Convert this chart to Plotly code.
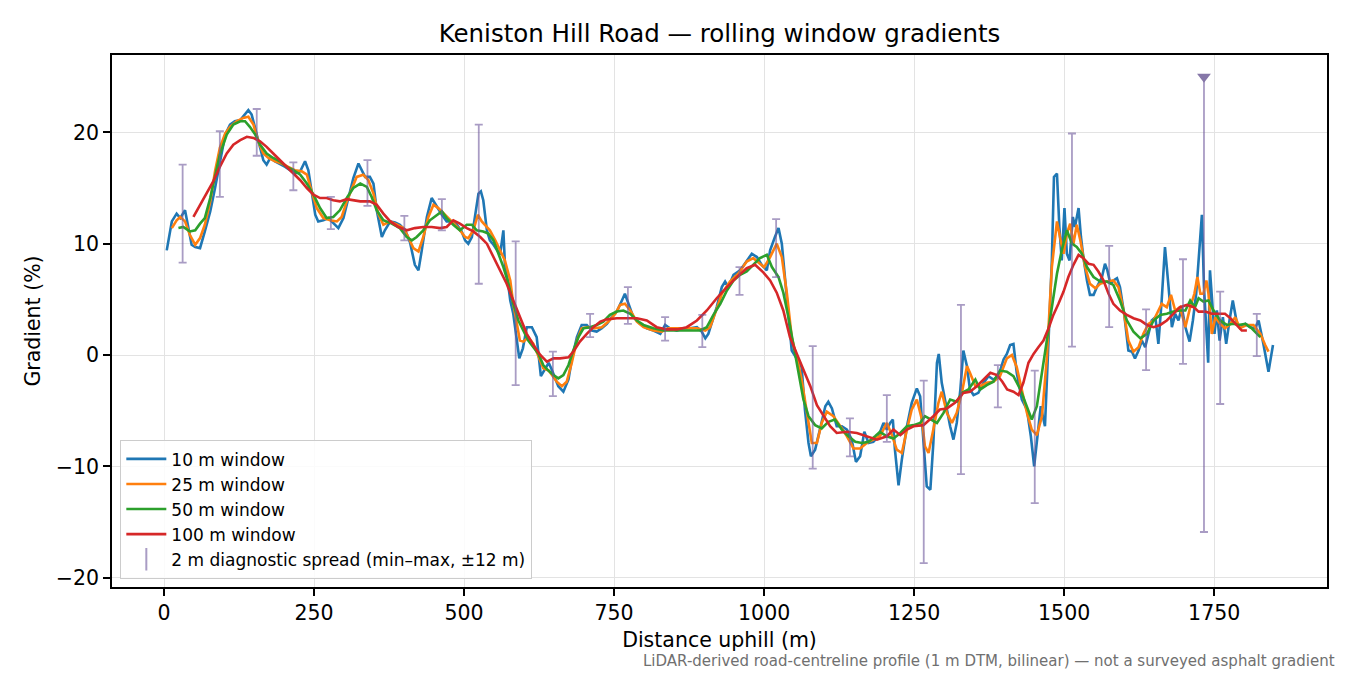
import plotly.graph_objects as go

# ---------------- data ----------------
dist_10 = [4.5, 13, 21, 27, 35, 40.5, 46, 52, 60, 68, 77, 85, 93, 102, 110, 118, 127, 135, 140.5, 146,
           152, 160, 165.5, 171, 177, 185, 193, 202, 210, 218, 227, 235, 240.5, 246, 252, 257, 265.5, 274,
           282, 290.5, 299, 307, 315.5, 324, 329.5, 335, 343, 349, 354.5, 363, 368, 377, 385, 393, 402,
           410, 418, 424, 429.5, 438, 446, 454.5, 463, 471, 479.5, 488, 496, 501.7, 507, 513, 518, 524,
           528, 532, 538, 543, 549, 554.5, 560, 565.5, 568, 572, 577, 582, 588, 592, 598, 604.5, 613, 621,
           628, 635, 641, 646, 652, 657, 665.5, 674, 679.5, 688, 696, 704.5, 713, 721, 729.5, 738, 746,
           754.5, 763, 768, 774, 782, 793, 804.5, 815.5, 827, 835, 843, 854.5, 865.5, 877, 888, 896, 902,
           907, 913, 921, 929.5, 935, 940.5, 949, 960, 971, 979.5, 988, 996, 1004.5, 1010, 1018, 1024,
           1029.5, 1035, 1040.5, 1046, 1054, 1062.5, 1068, 1074, 1078, 1085, 1093, 1102, 1107, 1113, 1121,
           1129.5, 1138, 1146, 1153, 1160, 1167, 1174, 1182, 1190.5, 1199, 1204.5, 1210, 1214.5, 1218,
           1224, 1229.5, 1238, 1246, 1254.5, 1260, 1265.5, 1271, 1277, 1282, 1288, 1291, 1296, 1302, 1310,
           1315.5, 1321, 1327, 1332, 1338, 1343, 1349, 1357, 1365.5, 1374, 1382, 1390.5, 1399, 1404.5,
           1410, 1415.5, 1421, 1429.5, 1438, 1444.5, 1450, 1455.5, 1461, 1468, 1474, 1479.5, 1483, 1488,
           1492, 1496, 1500.5, 1504.5, 1509, 1514.5, 1518, 1524, 1528, 1532, 1538, 1543, 1549, 1554.5,
           1563, 1568, 1572, 1577, 1582, 1588, 1593, 1600, 1607, 1613, 1618, 1624, 1629.5, 1635, 1640.5,
           1646, 1652, 1657, 1662.5, 1668, 1674, 1679.5, 1685, 1690.5, 1696, 1702, 1709, 1714.5, 1720,
           1725, 1729.5, 1733, 1737, 1740, 1743, 1747, 1750.5, 1754.5, 1759, 1764.5, 1770, 1775.5, 1781,
           1788, 1793, 1802, 1810, 1818, 1824, 1832, 1840.5, 1848]
grad_10 = [9.4, 12.0, 12.7, 12.3, 13.0, 11.4, 9.9, 9.7, 9.6, 11.1, 12.9, 15.0, 17.4, 19.8, 20.7, 21.0, 21.1, 21.6, 22.0, 21.6,
           20.4, 18.6, 17.5, 17.1, 17.7, 17.4, 17.2, 16.9, 16.6, 16.3, 16.5, 17.4, 16.6, 14.7, 12.6, 12.0, 12.1, 12.3,
           11.9, 11.4, 12.3, 14.1, 15.9, 17.2, 16.6, 16.0, 16.0, 15.4, 13.0, 10.6, 11.2, 12.0, 11.9, 11.7, 11.2,
           10.1, 8.1, 7.6, 9.4, 12.4, 14.1, 13.3, 12.6, 12.0, 12.0, 11.7, 11.1, 10.3, 10.0, 10.6, 12.4, 14.5,
           14.7, 13.9, 11.2, 10.3, 9.9, 9.4, 9.0, 11.2, 8.2, 7.0, 4.9, 3.7, 1.3, -0.3, 0.6, 2.5, 2.5, 1.6,
           -1.9, -1.3, -0.7, -1.3, -2.2, -2.8, -3.3, -2.2, -0.4, 1.6, 2.7, 2.7, 2.2, 2.1, 2.4, 2.8, 3.4,
           3.9, 4.9, 5.5, 4.6, 3.4, 2.8, 2.4, 2.2, 1.9, 2.7, 2.4, 2.2, 2.4, 2.4, 2.5, 2.1, 1.5,
           1.9, 3.0, 4.3, 6.1, 6.6, 6.1, 7.2, 7.6, 8.4, 9.1, 8.8, 8.1, 7.6, 9.4, 10.6, 11.4,
           10.0, 7.0, 3.4, 0.4, -0.3, -1.1, -4.9, -7.9, -9.1, -8.5, -6.7, -4.6, -4.2, -4.8, -6.4,
           -6.4, -6.7, -7.6, -9.6, -9.1, -6.9, -7.9, -7.8, -7.3, -6.1, -6.7, -6.1, -5.8, -8.5,
           -11.7, -9.4, -6.4, -4.3, -3.0, -3.7, -7.9, -11.8, -12.1, -7.9, -0.7, 0.1, -2.5, -4.3, -6.4,
           -7.6, -6.1, -3.1, 0.4, -1.0, -3.1, -3.6, -3.4, -2.5, -1.9, -2.2, -1.9, -0.4, 0.1,
           0.9, 1.0, -1.6, -4.0, -4.9, -7.3, -10.0, -7.3, -4.6, -6.4, 0.7, 8.5, 16.0, 16.3,
           11.5, 8.5, 13.2, 9.1, 8.5, 12.4, 11.5, 13.2, 10.6, 8.8, 6.7, 5.4, 5.4, 6.1,
           7.0, 8.2, 7.6, 6.4, 6.7, 6.9, 6.1, 3.7, 0.4, 0.3, -0.3, 0.4, 1.3, 0.7, 1.9,
           3.1, 3.4, 1.0, 4.9, 9.7, 6.1, 2.5, 3.7, 3.1, 4.3, 2.5, 1.2, 3.1, 5.5,
           9.1, 12.6, 6.1, 1.9, -0.7, 7.6, 4.9, 1.9, 4.0, 1.3, 3.4, 1.0, 3.1, 4.9,
           2.8, 2.5, 2.8, 2.5, 2.4, 3.1, 1.0, -1.5, 0.9]

dist_25 = [13, 21, 27, 35, 43, 52, 60, 68, 77, 85, 93, 102, 110, 121, 132, 140.5, 149, 157, 165.5, 174,
           185, 196, 207, 218, 229.5, 238, 246, 254.5, 265.5, 277, 288, 296, 304.5, 313, 321, 332, 340.5,
           349, 357, 365.5, 377, 388, 399, 407, 415.5, 424, 432, 440.5, 449, 457, 468, 479.5, 490.5, 501.7,
           507, 515.5, 523, 529.5, 535, 543, 552, 560, 568, 577, 582, 588, 593, 599, 607, 615.5, 624, 632,
           641, 654.5, 663, 671, 679.5, 688, 696, 707, 718, 729.5, 740.5, 752, 760, 768, 777, 788, 799,
           815.5, 829.5, 840.5, 854.5, 871, 888, 902, 910, 918, 929.5, 943, 957, 971, 982, 993, 1000,
           1010, 1021, 1029.5, 1038, 1046, 1054.5, 1062.5, 1071, 1079.5, 1088, 1096, 1104.5, 1115.5, 1127,
           1138, 1149, 1160, 1171, 1182, 1193, 1204.5, 1213, 1221, 1229.5, 1238, 1246, 1254.5, 1263, 1268,
           1274, 1282, 1290.5, 1296, 1304.5, 1313, 1321, 1329.5, 1338, 1343, 1352, 1360, 1371, 1382, 1393,
           1404.5, 1413, 1421, 1429.5, 1438, 1446, 1454.5, 1463, 1471, 1479.5, 1488, 1493, 1499, 1504.5,
           1510, 1515.5, 1521, 1527, 1535, 1543, 1552, 1560, 1571, 1582, 1590.5, 1599, 1607, 1615.5, 1624,
           1632, 1640.5, 1649, 1657, 1662.5, 1671, 1678, 1685, 1693, 1702, 1710, 1717, 1722, 1727, 1732,
           1737, 1740.5, 1746, 1752, 1760, 1768, 1777, 1785, 1793, 1804.5, 1815.5, 1827, 1835, 1840.5]
grad_25 = [11.4, 12.1, 12.4, 12.0, 10.8, 9.9, 10.5, 11.7, 13.8, 16.5, 18.6, 19.9, 20.5, 21.0, 21.3, 21.4, 20.7, 19.2, 18.1, 17.7,
           17.4, 17.2, 16.9, 16.6, 16.5, 16.2, 14.7, 13.2, 12.3, 12.1, 12.0, 12.4, 13.8, 15.0, 16.0, 16.2, 15.7,
           14.5, 12.7, 11.7, 12.0, 11.7, 11.4, 10.6, 9.6, 9.3, 10.6, 12.4, 13.5, 13.2, 12.6, 12.0, 11.4, 10.6,
           10.5, 11.2, 12.6, 12.0, 11.7, 11.2, 10.3, 9.4, 8.5, 6.7, 4.6, 2.8, 1.3, 1.2, 1.6, 1.0, -0.2, -1.2,
           -1.4, -2.4, -2.8, -2.4, -0.7, 1.3, 2.4, 2.5, 2.4, 2.5, 3.0, 3.7, 4.5, 4.6, 4.0, 3.0, 2.5,
           2.2, 2.1, 2.4, 2.4, 2.4, 2.4, 2.2, 2.5, 3.7, 5.5, 6.6, 7.3, 8.4, 8.7, 8.2, 7.9,
           8.8, 10.0, 8.8, 5.5, 1.6, -0.2, -2.2, -5.2, -7.9, -7.9, -6.1, -5.1, -5.5, -6.4,
           -7.3, -8.4, -8.4, -7.9, -7.6, -7.3, -6.1, -7.2, -8.5, -8.8, -6.7, -4.9, -4.0, -5.8, -8.2,
           -8.8, -6.7, -4.3, -3.3, -5.2, -6.1, -5.2, -3.4, -1.0, -1.6, -2.8, -2.8, -2.5, -2.4, -1.9,
           -0.3, 0.0, -1.1, -3.1, -5.2, -6.7, -7.2, -5.5, -0.4, 7.9, 12.0, 10.6, 9.1, 10.9,
           11.8, 10.0, 11.7, 10.3, 7.9, 6.4, 6.0, 6.4, 6.6, 6.7, 6.1, 4.0, 1.3, 0.3, 0.7,
           1.9, 2.8, 3.1, 4.0, 4.6, 4.3, 5.4, 4.0, 4.3, 2.5, 4.3, 5.5, 7.0, 5.5, 5.5,
           6.7, 5.5, 1.9, 3.4, 2.8, 2.4, 2.8, 3.4, 2.4, 2.7, 2.7, 1.9, 0.9, 0.3]

dist_50 = [24, 32, 43, 52, 60, 68, 77, 85, 93, 104.5, 115.5, 127, 135, 143, 152, 160, 171, 182, 193, 204.5,
           215.5, 227, 238, 249, 260, 271, 282, 293, 304.5, 315.5, 327, 338, 346, 354.5, 365.5, 379.5, 393,
           404.5, 413, 421, 432, 443, 454.5, 463, 471, 482, 493, 504.5, 513, 521, 532, 540.5, 549, 557,
           565.5, 574, 582, 590.5, 599, 607, 615.5, 624, 632, 640.5, 649, 657, 665.5, 674, 682, 690.5, 699,
           710, 721, 732, 743, 754.5, 765.5, 777, 788, 799, 815.5, 832, 849, 865.5, 882, 893, 904.5, 915.5,
           927, 938, 949, 960, 971, 982, 993, 1004.5, 1013, 1024, 1032, 1040.5, 1049, 1057, 1065.5, 1074,
           1085, 1096, 1107, 1118, 1129.5, 1140.5, 1152, 1163, 1174, 1185, 1193, 1204.5, 1215.5, 1227, 1238,
           1249, 1260, 1268, 1277, 1288, 1299, 1310, 1321, 1329.5, 1340.5, 1352, 1360, 1371, 1382, 1393,
           1404.5, 1415.5, 1427, 1438, 1446, 1454.5, 1463, 1471, 1479.5, 1488, 1496, 1504.5, 1513, 1521,
           1529.5, 1538, 1549, 1560, 1571, 1582, 1593, 1604.5, 1615.5, 1627, 1638, 1649, 1660, 1671, 1682,
           1693, 1702, 1710, 1718, 1724, 1732, 1740.5, 1749, 1760, 1771, 1782, 1790.5, 1802, 1812.5, 1827]
grad_50 = [11.4, 11.5, 11.1, 11.2, 11.8, 12.3, 14.1, 16.2, 18.0, 19.8, 20.7, 21.0, 21.0, 20.5, 19.8, 18.9, 18.1, 17.7, 17.4, 16.9,
           16.6, 16.2, 15.4, 14.4, 13.2, 12.3, 12.4, 13.0, 14.1, 15.0, 15.4, 15.1, 14.2, 13.0, 12.1, 11.8, 11.4,
           10.6, 10.3, 10.6, 11.2, 12.1, 12.6, 12.9, 12.3, 11.7, 11.2, 11.7, 11.7, 11.2, 11.1, 10.9, 10.3, 9.1,
           7.9, 6.4, 4.6, 3.1, 2.1, 1.3, 0.7, 0.1, -0.9, -1.4, -1.8, -2.1, -1.8, -0.9, 0.4, 1.6, 2.4,
           2.5, 2.7, 3.0, 3.6, 3.9, 4.0, 3.7, 3.1, 2.7, 2.4, 2.2, 2.2, 2.2, 2.2, 2.2, 2.5, 3.6,
           4.6, 5.8, 6.7, 7.2, 7.5, 8.1, 8.7, 9.0, 7.9, 7.0, 5.6, 3.4, 1.0, -1.3, -4.0, -5.5,
           -6.3, -6.6, -6.0, -5.8, -6.7, -7.3, -7.8, -7.9, -7.8, -7.3, -6.9, -7.3, -7.5, -7.0, -6.4,
           -6.3, -6.1, -5.5, -5.8, -6.1, -5.2, -4.0, -4.2, -3.4, -3.1, -2.2, -3.1, -2.7, -2.4, -1.4,
           -1.5, -1.9, -3.1, -4.6, -5.8, -4.6, -1.6, 1.0, 4.3, 7.3, 9.4, 11.2, 10.0, 9.7,
           9.1, 7.9, 7.0, 6.6, 6.6, 6.3, 4.9, 3.1, 2.1, 1.5, 1.9, 3.1, 3.6, 3.7, 3.9,
           4.0, 4.0, 4.9, 4.3, 5.1, 4.8, 4.9, 4.0, 3.1, 2.7, 2.8, 2.7, 2.8, 2.4, 1.6]

dist_100 = [49, 60, 71, 82, 93, 104.5, 115.5, 127, 138, 149, 160, 171, 182, 193, 204.5, 215.5, 227, 238, 249,
            260, 271, 282, 293, 304.5, 315.5, 327, 343, 354.5, 365.5, 377, 390.5, 404.5, 418, 432, 446, 460,
            471, 482, 493, 504.5, 515.5, 527, 538, 549, 560, 571, 582, 593, 604.5, 615.5, 627, 638, 649, 660,
            674, 682, 693, 704.5, 715.5, 727, 738, 754.5, 771, 788, 804.5, 821, 838, 854.5, 871, 888, 904.5,
            921, 938, 954.5, 971, 985, 999, 1010, 1021, 1032, 1043, 1054.5, 1065.5, 1077, 1088, 1099, 1110,
            1121, 1138, 1154.5, 1171, 1188, 1204.5, 1215.5, 1227, 1238, 1249, 1265.5, 1282, 1293, 1304.5,
            1318, 1332, 1343, 1354.5, 1365.5, 1377, 1388, 1397, 1405, 1415.5, 1424, 1432, 1440.5, 1449, 1457,
            1465.5, 1474, 1482, 1490.5, 1499, 1507, 1515.5, 1524, 1532, 1540.5, 1549, 1557, 1565.5, 1574,
            1582, 1593, 1604.5, 1615.5, 1627, 1638, 1649, 1660, 1671, 1682, 1693, 1704.5, 1716, 1724, 1735,
            1746, 1757, 1768, 1777, 1788, 1796, 1804.5]
grad_100 = [12.4, 13.5, 14.5, 15.6, 16.9, 18.1, 18.9, 19.3, 19.6, 19.5, 19.2, 18.7, 18.1, 17.5, 16.9, 16.3, 15.7, 15.0, 14.4,
            14.1, 14.1, 13.9, 13.8, 14.0, 13.9, 13.8, 13.8, 13.5, 12.7, 12.0, 11.5, 11.2, 11.4, 11.5, 11.5, 11.4,
            11.5, 12.1, 11.8, 11.4, 11.1, 10.6, 10.0, 8.8, 7.6, 6.4, 4.9, 3.4, 1.9, 0.9, 0.0, -0.6, -0.3, -0.3,
            -0.2, 0.3, 1.2, 1.9, 2.5, 3.0, 3.2, 3.3, 3.3, 3.3, 3.1, 2.5, 2.3, 2.3, 2.5, 3.1, 4.0,
            5.1, 6.1, 7.0, 7.8, 8.1, 7.4, 6.7, 5.6, 4.0, 1.6, 0.1, -1.3, -2.8, -4.5, -5.5, -6.4,
            -7.0, -6.9, -7.0, -7.3, -7.6, -7.3, -6.7, -7.2, -6.7, -6.4, -6.3, -5.5, -4.9, -4.8,
            -4.3, -3.4, -3.3, -2.8, -2.2, -1.6, -1.8, -2.4, -3.1, -3.3, -3.6, -2.5, -0.7, 0.1, 0.7,
            1.3, 2.4, 3.6, 4.6, 5.7, 7.0, 8.1, 9.0, 8.7, 8.2, 8.1, 7.5, 6.7, 5.5,
            4.6, 4.0, 3.6, 3.3, 3.1, 2.7, 2.5, 2.7, 3.1, 3.7, 4.3, 4.5, 4.3, 3.9, 3.9,
            3.7, 3.7, 3.7, 3.3, 2.7, 2.2, 2.2]

# 2 m diagnostic spread (min-max within +/-12 m)
spread_x = [31, 93, 154.5, 215.5, 278, 339, 400.5, 463, 524.5, 586, 648, 710, 773, 835, 897, 959, 1020, 1081,
            1143, 1204.5, 1266, 1328, 1389.5, 1451, 1513, 1575, 1636.5, 1698, 1733, 1760, 1821]
spread_max = [17.1, 20.1, 22.1, 17.3, 14.2, 17.5, 12.5, 14.0, 20.7, 10.2, 0.3, 3.7, 6.1, 3.4, 3.6, 7.9, 12.2, 0.8,
              -5.7, -3.6, -2.3, 4.5, -0.9, -1.4, 19.9, 9.8, 4.1, 8.6, 25.0, 5.7, 3.7]
spread_min = [8.3, 14.2, 17.9, 14.8, 11.3, 13.4, 10.3, 11.2, 6.4, -2.7, -3.7, 1.6, 2.8, 1.3, 0.7, 5.4, 7.0, -10.2,
              -9.1, -7.8, -18.7, -10.7, -4.7, -13.3, 0.75, 2.5, -1.35, -0.8, -15.9, -4.4, -0.1]
# spread maximum beyond the axis (shown clipped with a marker)
clip_x = [1733]
clip_y = [25.0]

x_ticks = [0, 250, 500, 750, 1000, 1250, 1500, 1750]
y_ticks = [-20, -10, 0, 10, 20]

title_text = "Keniston Hill Road — rolling window gradients"
x_title = "Distance uphill (m)"
y_title = "Gradient (%)"
footnote = "LiDAR-derived road-centreline profile (1 m DTM, bilinear) — not a surveyed asphalt gradient"

series = [
    ("10 m window", dist_10, grad_10, "#1f77b4"),
    ("25 m window", dist_25, grad_25, "#ff7f0e"),
    ("50 m window", dist_50, grad_50, "#2ca02c"),
    ("100 m window", dist_100, grad_100, "#d62728"),
]

FONT = "DejaVu Sans"
EB_COLOR = "rgba(112,90,156,0.6)"

fig = go.Figure()

for name, xs, ys, col in series:
    fig.add_trace(go.Scatter(x=xs, y=ys, mode="lines", name=name,
                             line=dict(color=col, width=2.6)))

mid = [(a + b) / 2 for a, b in zip(spread_max, spread_min)]
fig.add_trace(go.Scatter(
    x=spread_x, y=mid, mode="markers", showlegend=False, hoverinfo="skip",
    marker=dict(size=1, color="rgba(0,0,0,0)"),
    error_y=dict(type="data", symmetric=False,
                 array=[h - m for h, m in zip(spread_max, mid)],
                 arrayminus=[m - l for m, l in zip(mid, spread_min)],
                 color=EB_COLOR, thickness=1.8, width=4)))

fig.add_trace(go.Scatter(
    x=clip_x, y=clip_y, mode="markers", showlegend=False,
    marker=dict(symbol="triangle-down", size=12, color="#8677a8")))

# legend handle for the spread bars
fig.add_trace(go.Scatter(
    x=[None], y=[None], mode="markers", name="2 m diagnostic spread (min–max, ±12 m)",
    marker=dict(symbol="line-ns", size=16, color=EB_COLOR, line=dict(width=2, color=EB_COLOR))))

axis_common = dict(
    showline=True, linecolor="black", linewidth=1.6, mirror=True,
    ticks="outside", ticklen=7, tickwidth=1.6, tickcolor="black",
    showgrid=True, gridcolor="#e3e3e3", gridwidth=1.3, zeroline=False,
    tickfont=dict(family=FONT, size=20.5, color="black"),
)

# page body adds ~8 px offset; margins compensate so the plot area lands at 112..1327 x 55..587
fig.update_layout(
    width=1350, height=675,
    paper_bgcolor="white", plot_bgcolor="white",
    margin=dict(l=104, r=31, t=47, b=96),
    font=dict(family=FONT, color="black"),
    title=dict(text=title_text, x=0.5, xref="paper", xanchor="center",
               y=1 - 25 / 675, yref="container", yanchor="middle",
               font=dict(family=FONT, size=24.5, color="black")),
    xaxis=dict(range=[-86.7, 1938], tickvals=x_ticks,
               title=dict(text=x_title, standoff=8, font=dict(family=FONT, size=20.5)),
               **axis_common),
    yaxis=dict(range=[-20.84, 26.95], tickvals=y_ticks,
               title=dict(text=y_title, standoff=10, font=dict(family=FONT, size=20.5)),
               **axis_common),
    legend=dict(x=0.0066, y=0.015, xanchor="left", yanchor="bottom",
                bgcolor="rgba(255,255,255,0.85)", bordercolor="#cccccc", borderwidth=1.3,
                font=dict(family=FONT, size=17, color="black"), itemwidth=40,
                tracegroupgap=0),
    showlegend=True,
)

fig.add_annotation(text=footnote, xref="paper", yref="paper",
                   x=(1337 - 112) / 1215, y=(587 - 661) / 532, xanchor="right", yanchor="middle",
                   showarrow=False, font=dict(family=FONT, size=15, color="#707070"))

fig.write_html("out.html")
